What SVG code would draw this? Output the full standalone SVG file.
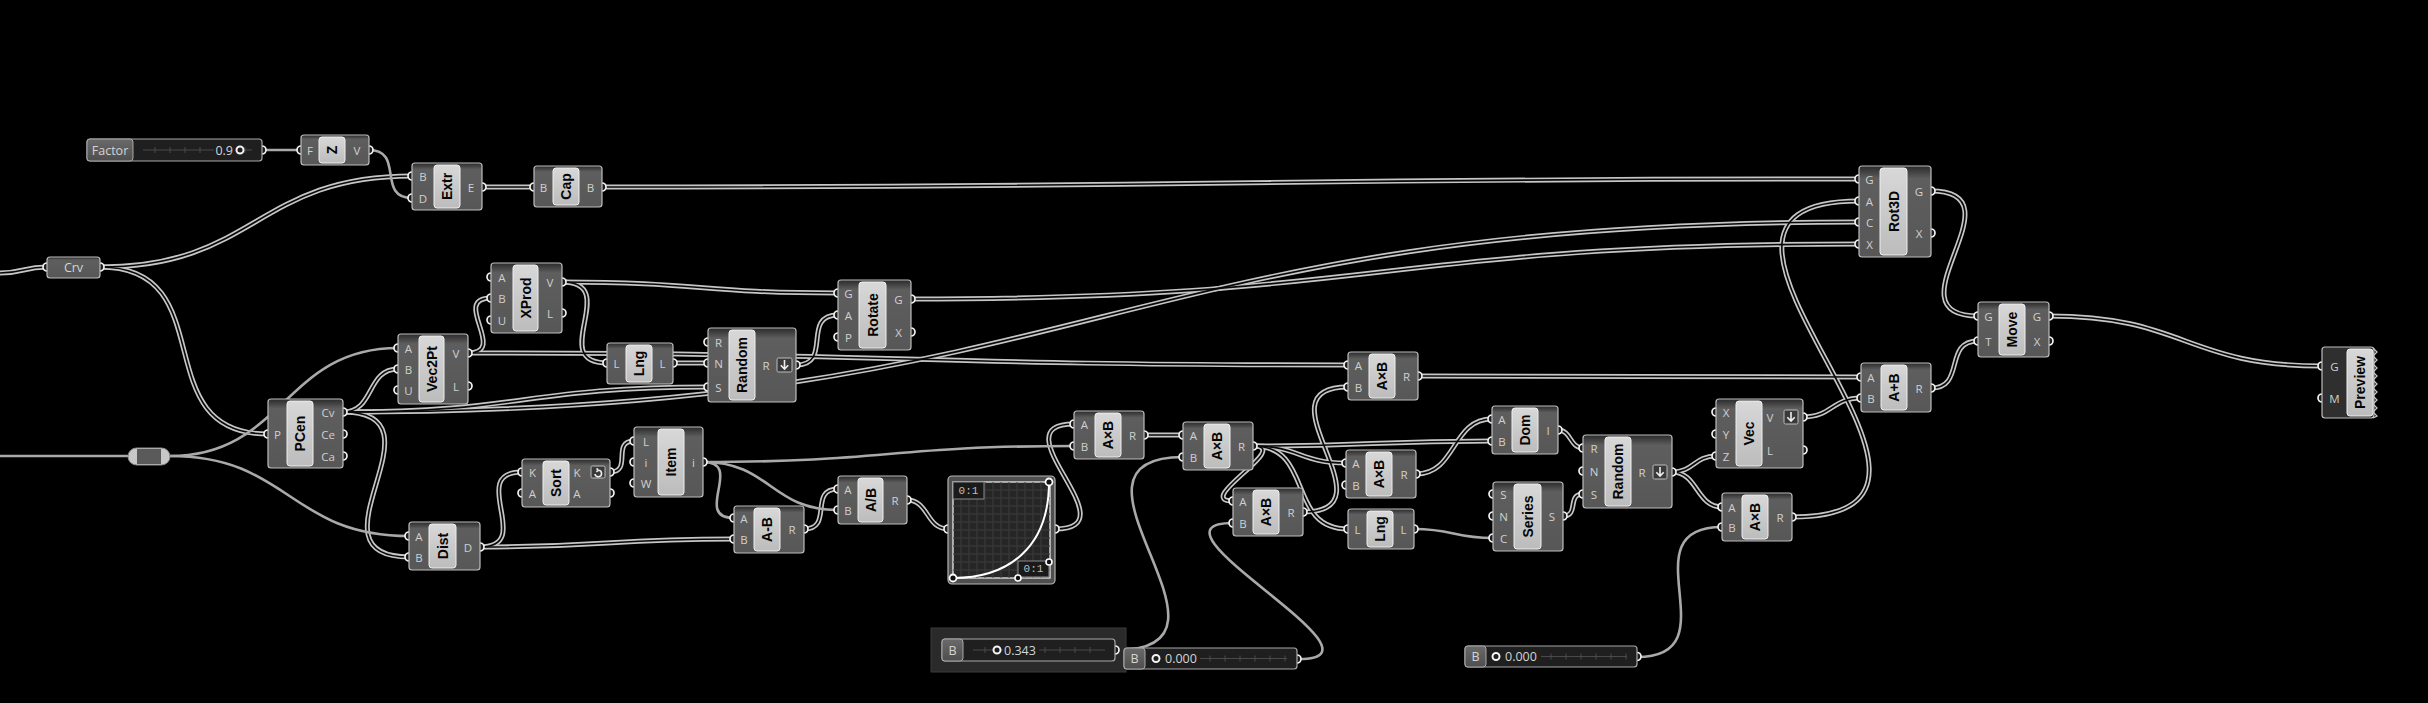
<svg xmlns="http://www.w3.org/2000/svg" width="2428" height="703" viewBox="0 0 2428 703">
<defs>
<linearGradient id="gBody" x1="0" y1="0" x2="0" y2="1"><stop offset="0" stop-color="#2a2a2a"/><stop offset="0.14" stop-color="#5e5e5e"/><stop offset="1" stop-color="#575757"/></linearGradient>
<linearGradient id="gIn" x1="0" y1="0" x2="0" y2="1"><stop offset="0" stop-color="#d8d8d8"/><stop offset="1" stop-color="#bcbcbc"/></linearGradient>
<linearGradient id="gLab" x1="0" y1="0" x2="0" y2="1"><stop offset="0" stop-color="#6a6a6a"/><stop offset="1" stop-color="#4e4e4e"/></linearGradient>
</defs>
<style>
.bd{fill:url(#gBody);stroke:#bdbdbd;stroke-width:1.2}
.ib{fill:url(#gIn);stroke:#efefef;stroke-width:1}
.nl{font-family:"Liberation Sans","DejaVu Sans",sans-serif;font-weight:bold;font-size:14px;fill:#050505;text-anchor:middle;dominant-baseline:central}
.pl{font-family:"Open Sans","Liberation Sans",sans-serif;font-size:11.5px;fill:#d0d0d0;text-anchor:middle;dominant-baseline:central}
.pt{fill:#1c1c1c;stroke:#f2f2f2;stroke-width:1.7}
.w2o{fill:none;stroke:#c6c6c6;stroke-width:5}
.w2i{fill:none;stroke:#080808;stroke-width:1.6}
.w1{fill:none;stroke:#a9a9a9;stroke-width:2.6}
.sl{fill:#1f1f1f;stroke:#a8a8a8;stroke-width:1.2}
.slab{fill:url(#gLab);stroke:#a8a8a8;stroke-width:1}
.st{font-family:"Open Sans","Liberation Sans",sans-serif;font-size:12.5px;fill:#d4d4d4;dominant-baseline:central}
.trk{stroke:#4a4a4a;stroke-width:1;fill:none}
.grip{fill:#1f1f1f;stroke:#f4f4f4;stroke-width:2}
.ico{fill:#3a3a3a;stroke:#bdbdbd;stroke-width:1}
.icl{fill:none;stroke:#eeeeee;stroke-width:1.6}
.mono{font-family:"Liberation Mono","DejaVu Sans Mono",monospace;font-size:11px;fill:#bdbdbd;text-anchor:middle;dominant-baseline:central}
</style>
<rect width="2428" height="703" fill="#000"/>

<g id="connectors">
<g class="w2o"><g id="dw">
<path d="M0 273 C23.5 273 23.5 267 47 267"/>
<path d="M100 267 C256 267 256 176 412 176"/>
<path d="M100 267 C225 267 143 434 268 434"/>
<path d="M482 187 L534 187"/>
<path d="M602 187 C1230 187 1230 179 1859 179"/>
<path d="M343 412 C375 412 366 369 398 369"/>
<path d="M343 412 C452 412 300 557 409 557"/>
<path d="M343 412 C525.5 412 525.5 387 708 387"/>
<path d="M343 412 C1101 412 1101 222 1859 222"/>
<path d="M468 353 C509 353 450 298 491 298"/>
<path d="M468 353 C908 353 908 365 1348 365"/>
<path d="M562 282 C700 282 700 293 838 293"/>
<path d="M562 282 C623 282 546 363 607 363"/>
<path d="M673 363 L708 363"/>
<path d="M796 365 C833.5 365 800.5 315 838 315"/>
<path d="M911 299 C1385 299 1385 244 1859 244"/>
<path d="M480 547 C536 547 466 472 522 472"/>
<path d="M480 547 C607 547 607 539 734 539"/>
<path d="M610 472 C633 472 611 441 634 441"/>
<path d="M804 529 C834 529 808 489 838 489"/>
<path d="M907 500 C929 500 926 529 948 529"/>
<path d="M1055 529 C1134 529 995 424 1074 424"/>
<path d="M1144 435 L1183 435"/>
<path d="M1253 446 C1294 446 1192 501 1233 501"/>
<path d="M1253 446 C1299.5 446 1299.5 463 1346 463"/>
<path d="M1253 446 C1315 446 1286 529 1348 529"/>
<path d="M1253 446 C1372 446 1372 441 1492 441"/>
<path d="M1303 512 C1397 512 1254 387 1348 387"/>
<path d="M1418 376 C1639.5 376 1639.5 377 1861 377"/>
<path d="M1416 474 C1457 474 1451 419 1492 419"/>
<path d="M1558 430 C1571.5 430 1569.5 448 1583 448"/>
<path d="M1563 516 C1579.5 516 1566.5 494 1583 494"/>
<path d="M1672 472 C1694 472 1694 456 1716 456"/>
<path d="M1672 472 C1698 472 1696 507 1722 507"/>
<path d="M1803 417 C1832 417 1832 398 1861 398"/>
<path d="M1792 517 C2029 517 1622 201 1859 201"/>
<path d="M1931 388 C1966 388 1943 341 1978 341"/>
<path d="M1931 191 C2025 191 1884 316 1978 316"/>
<path d="M2049 316 C2185.5 316 2185.5 366 2322 366"/>
</g></g>
<use href="#dw" class="w2i"/>
<g class="w1">
<path d="M264 150 L301 150"/>
<path d="M369 150 C405 150 376 198 412 198"/>
<path d="M0 456 L128 456"/>
<path d="M170 456 C284 456 284 348 398 348"/>
<path d="M170 456 C289.5 456 289.5 536 409 536"/>
<path d="M703 462 C745 462 692 518 734 518"/>
<path d="M703 462 C770.5 462 770.5 510 838 510"/>
<path d="M703 462 C888.5 462 888.5 446 1074 446"/>
<path d="M1117 650 C1262 650 1038 457 1183 457"/>
<path d="M1299 659 C1401 659 1131 523 1233 523"/>
<path d="M1414 529 C1453.5 529 1453.5 538 1493 538"/>
<path d="M1637 657 C1734.5 657 1624.5 527 1722 527"/>
</g>
</g>

<g id="nodes">

<g id="factor">
<circle class="pt" cx="262" cy="150" r="4"/>
<rect class="sl" x="87" y="139" width="175" height="22" rx="3"/>
<rect class="slab" x="87" y="139" width="46" height="22" rx="3"/>
<text class="st" x="110" y="150" text-anchor="middle" font-size="13">Factor</text>
<path class="trk" d="M143 150 H252 M155 147 v6 M170 147 v6 M185 147 v6 M200 147 v6 M215 147 v6 M230 147 v6 M245 147 v6"/>
<rect x="214" y="143" width="22" height="14" fill="#1f1f1f"/>
<text class="st" x="233" y="150" text-anchor="end">0.9</text>
<circle class="grip" cx="240" cy="150" r="3.5"/>
</g>

<g id="unitz">
<circle class="pt" cx="301" cy="150" r="4"/><circle class="pt" cx="369" cy="150" r="4"/>
<rect class="bd" x="301" y="135" width="68" height="30" rx="3"/>
<rect class="ib" x="319" y="137" width="26" height="26" rx="3"/>
<text class="nl" transform="translate(332 150) rotate(-90)">Z</text>
<text class="pl" x="310" y="150">F</text><text class="pl" x="357" y="150">V</text>
</g>

<g id="crv">
<circle class="pt" cx="47" cy="267" r="4"/><circle class="pt" cx="100" cy="267" r="4"/>
<rect class="bd" x="47" y="257" width="53" height="21" rx="3"/>
<text class="st" x="73.5" y="267.5" text-anchor="middle">Crv</text>
</g>

<g id="relay">
<rect x="128" y="448" width="42" height="17" rx="8.5" fill="#c8c8c8" stroke="#8a8a8a" stroke-width="1"/>
<rect x="137" y="449" width="24" height="15" fill="#5a5a5a"/>
</g>

<g id="extr">
<circle class="pt" cx="412" cy="176" r="4"/><circle class="pt" cx="412" cy="198" r="4"/><circle class="pt" cx="482" cy="187" r="4"/>
<rect class="bd" x="412" y="163" width="70" height="47" rx="3"/>
<rect class="ib" x="434" y="165" width="26" height="43" rx="3"/>
<text class="nl" transform="translate(447 186.5) rotate(-90)">Extr</text>
<text class="pl" x="423" y="176">B</text><text class="pl" x="423" y="198">D</text><text class="pl" x="471" y="187">E</text>
</g>

<g id="cap">
<circle class="pt" cx="534" cy="187" r="4"/><circle class="pt" cx="602" cy="187" r="4"/>
<rect class="bd" x="534" y="166" width="68" height="41" rx="3"/>
<rect class="ib" x="553" y="168" width="26" height="37" rx="3"/>
<text class="nl" transform="translate(566 186.5) rotate(-90)">Cap</text>
<text class="pl" x="543.5" y="187">B</text><text class="pl" x="590.5" y="187">B</text>
</g>

<g id="xprod">
<circle class="pt" cx="491" cy="277" r="4"/><circle class="pt" cx="491" cy="298" r="4"/><circle class="pt" cx="491" cy="320" r="4"/>
<circle class="pt" cx="562" cy="282" r="4"/><circle class="pt" cx="562" cy="313" r="4"/>
<rect class="bd" x="491" y="263" width="71" height="70" rx="3"/>
<rect class="ib" x="513" y="265" width="25" height="66" rx="3"/>
<text class="nl" transform="translate(525.5 298) rotate(-90)">XProd</text>
<text class="pl" x="502" y="277">A</text><text class="pl" x="502" y="298">B</text><text class="pl" x="502" y="320">U</text>
<text class="pl" x="550" y="282">V</text><text class="pl" x="550" y="313">L</text>
</g>

<g id="vec2pt">
<circle class="pt" cx="398" cy="348" r="4"/><circle class="pt" cx="398" cy="369" r="4"/><circle class="pt" cx="398" cy="390" r="4"/>
<circle class="pt" cx="468" cy="353" r="4"/><circle class="pt" cx="468" cy="386" r="4"/>
<rect class="bd" x="398" y="334" width="70" height="70" rx="3"/>
<rect class="ib" x="419" y="336" width="25" height="66" rx="3"/>
<text class="nl" transform="translate(431.5 369) rotate(-90)">Vec2Pt</text>
<text class="pl" x="408.5" y="348">A</text><text class="pl" x="408.5" y="369">B</text><text class="pl" x="408.5" y="390">U</text>
<text class="pl" x="456" y="353">V</text><text class="pl" x="456" y="386">L</text>
</g>

<g id="pcen">
<circle class="pt" cx="268" cy="434" r="4"/>
<circle class="pt" cx="343" cy="412" r="4"/><circle class="pt" cx="343" cy="434" r="4"/><circle class="pt" cx="343" cy="456" r="4"/>
<rect class="bd" x="268" y="399" width="75" height="69" rx="3"/>
<rect class="ib" x="287" y="401" width="26" height="65" rx="3"/>
<text class="nl" transform="translate(300 433.5) rotate(-90)">PCen</text>
<text class="pl" x="277.5" y="434">P</text>
<text class="pl" x="328" y="412">Cv</text><text class="pl" x="328" y="434">Ce</text><text class="pl" x="328" y="456">Ca</text>
</g>

<g id="lng1">
<circle class="pt" cx="607" cy="363" r="4"/><circle class="pt" cx="673" cy="363" r="4"/>
<rect class="bd" x="607" y="343" width="66" height="41" rx="3"/>
<rect class="ib" x="626" y="345" width="26" height="37" rx="3"/>
<text class="nl" transform="translate(639 363.5) rotate(-90)">Lng</text>
<text class="pl" x="616.5" y="363">L</text><text class="pl" x="662.5" y="363">L</text>
</g>

<g id="random1">
<circle class="pt" cx="708" cy="342" r="4"/><circle class="pt" cx="708" cy="363" r="4"/><circle class="pt" cx="708" cy="387" r="4"/>
<circle class="pt" cx="796" cy="365" r="4"/>
<rect class="bd" x="708" y="328" width="88" height="74" rx="3"/>
<rect class="ib" x="729" y="330" width="26" height="70" rx="3"/>
<text class="nl" transform="translate(742 365) rotate(-90)">Random</text>
<text class="pl" x="718.5" y="342">R</text><text class="pl" x="718.5" y="363">N</text><text class="pl" x="718.5" y="387">S</text>
<text class="pl" x="766" y="365">R</text>
<rect class="ico" x="777" y="358" width="15" height="14" rx="1.5"/>
<path class="icl" d="M784.5 360 V369 M780.8 365.3 L784.5 369 L788.2 365.3"/>
</g>

<g id="rotate">
<circle class="pt" cx="838" cy="293" r="4"/><circle class="pt" cx="838" cy="315" r="4"/><circle class="pt" cx="838" cy="337" r="4"/>
<circle class="pt" cx="911" cy="299" r="4"/><circle class="pt" cx="911" cy="332" r="4"/>
<rect class="bd" x="838" y="280" width="73" height="70" rx="3"/>
<rect class="ib" x="859" y="282" width="27" height="66" rx="3"/>
<text class="nl" transform="translate(872.5 315) rotate(-90)">Rotate</text>
<text class="pl" x="848.5" y="293">G</text><text class="pl" x="848.5" y="315">A</text><text class="pl" x="848.5" y="337">P</text>
<text class="pl" x="898.5" y="299">G</text><text class="pl" x="898.5" y="332">X</text>
</g>

<g id="dist">
<circle class="pt" cx="409" cy="536" r="4"/><circle class="pt" cx="409" cy="557" r="4"/><circle class="pt" cx="480" cy="547" r="4"/>
<rect class="bd" x="409" y="522" width="71" height="48" rx="3"/>
<rect class="ib" x="429" y="524" width="27" height="44" rx="3"/>
<text class="nl" transform="translate(442.5 546) rotate(-90)">Dist</text>
<text class="pl" x="419" y="536">A</text><text class="pl" x="419" y="557">B</text><text class="pl" x="468" y="547">D</text>
</g>

<g id="sort">
<circle class="pt" cx="522" cy="472" r="4"/><circle class="pt" cx="522" cy="493" r="4"/>
<circle class="pt" cx="610" cy="472" r="4"/><circle class="pt" cx="610" cy="493" r="4"/>
<rect class="bd" x="522" y="459" width="88" height="48" rx="3"/>
<rect class="ib" x="543" y="461" width="26" height="44" rx="3"/>
<text class="nl" transform="translate(556 483) rotate(-90)">Sort</text>
<text class="pl" x="532.5" y="472">K</text><text class="pl" x="532.5" y="493">A</text>
<text class="pl" x="577" y="472">K</text><text class="pl" x="577" y="493">A</text>
<rect class="ico" x="591" y="466" width="14" height="12" rx="1.5"/>
<path class="icl" d="M595 474 A3.3 3.3 0 1 0 598.3 470.2 M598.3 470.2 L596.6 468.4 M598.3 470.2 L596.4 471.8" stroke-width="1.3"/>
</g>

<g id="item">
<circle class="pt" cx="634" cy="441" r="4"/><circle class="pt" cx="634" cy="462" r="4"/><circle class="pt" cx="634" cy="483" r="4"/>
<circle class="pt" cx="703" cy="462" r="4"/>
<rect class="bd" x="634" y="427" width="69" height="70" rx="3"/>
<rect class="ib" x="658" y="429" width="26" height="66" rx="3"/>
<text class="nl" transform="translate(671 462) rotate(-90)">Item</text>
<text class="pl" x="646" y="441">L</text><text class="pl" x="646" y="462">i</text><text class="pl" x="646" y="483">W</text>
<text class="pl" x="693.5" y="462">i</text>
</g>

<g id="aminusb">
<circle class="pt" cx="734" cy="518" r="4"/><circle class="pt" cx="734" cy="539" r="4"/><circle class="pt" cx="804" cy="529" r="4"/>
<rect class="bd" x="734" y="506" width="70" height="47" rx="3"/>
<rect class="ib" x="754" y="508" width="26" height="43" rx="3"/>
<text class="nl" transform="translate(767 529.5) rotate(-90)">A-B</text>
<text class="pl" x="744" y="518">A</text><text class="pl" x="744" y="539">B</text><text class="pl" x="792" y="529">R</text>
</g>

<g id="adivb">
<circle class="pt" cx="838" cy="489" r="4"/><circle class="pt" cx="838" cy="510" r="4"/><circle class="pt" cx="907" cy="500" r="4"/>
<rect class="bd" x="838" y="476" width="69" height="48" rx="3"/>
<rect class="ib" x="858" y="478" width="25" height="44" rx="3"/>
<text class="nl" transform="translate(870.5 500) rotate(-90)">A/B</text>
<text class="pl" x="848" y="489">A</text><text class="pl" x="848" y="510">B</text><text class="pl" x="895" y="500">R</text>
</g>

<g id="graph">
<circle class="pt" cx="948" cy="529" r="4"/><circle class="pt" cx="1055" cy="529" r="4"/>
<rect x="948" y="476" width="107" height="108" rx="4" fill="#4f4f4f" stroke="#b5b5b5" stroke-width="1.2"/>
<rect x="953" y="482" width="97" height="96" fill="#262626" stroke="#dcdcdc" stroke-width="1.4"/>
<path d="M961 482 V578 M969 482 V578 M977 482 V578 M985 482 V578 M993 482 V578 M1001 482 V578 M1009 482 V578 M1017 482 V578 M1025 482 V578 M1033 482 V578 M1041 482 V578 M953 490 H1050 M953 498 H1050 M953 506 H1050 M953 514 H1050 M953 522 H1050 M953 530 H1050 M953 538 H1050 M953 546 H1050 M953 554 H1050 M953 562 H1050 M953 570 H1050" stroke="#3d3d3d" stroke-width="1" fill="none"/>
<rect x="953" y="482" width="31" height="17" fill="#1a1a1a" stroke="#8a8a8a" stroke-width="1"/>
<text class="mono" x="968.5" y="490.5">0:1</text>
<rect x="1018" y="561" width="31" height="16" fill="#1a1a1a" stroke="#8a8a8a" stroke-width="1"/>
<text class="mono" x="1033.5" y="569">0:1</text>
<path d="M953 578 C1008 578 1049 548 1049 482" fill="none" stroke="#ffffff" stroke-width="2"/>
<circle cx="953" cy="578" r="3.5" fill="#111" stroke="#fff" stroke-width="1.8"/>
<circle cx="1049" cy="482" r="3.5" fill="#111" stroke="#fff" stroke-width="1.8"/>
<circle cx="1018" cy="578" r="3" fill="#111" stroke="#fff" stroke-width="1.6"/>
<circle cx="1049" cy="562" r="3" fill="#111" stroke="#fff" stroke-width="1.6"/>
</g>

<g id="axb1">
<circle class="pt" cx="1074" cy="424" r="4"/><circle class="pt" cx="1074" cy="446" r="4"/><circle class="pt" cx="1144" cy="435" r="4"/>
<rect class="bd" x="1074" y="411" width="70" height="48" rx="3"/>
<rect class="ib" x="1095" y="413" width="26" height="44" rx="3"/>
<text class="nl" transform="translate(1108 435) rotate(-90)">A×B</text>
<text class="pl" x="1084.5" y="424">A</text><text class="pl" x="1084.5" y="446">B</text><text class="pl" x="1132.5" y="435">R</text>
</g>

<g id="axb2">
<circle class="pt" cx="1183" cy="435" r="4"/><circle class="pt" cx="1183" cy="457" r="4"/><circle class="pt" cx="1253" cy="446" r="4"/>
<rect class="bd" x="1183" y="422" width="70" height="48" rx="3"/>
<rect class="ib" x="1204" y="424" width="26" height="44" rx="3"/>
<text class="nl" transform="translate(1217 446) rotate(-90)">A×B</text>
<text class="pl" x="1193.5" y="435">A</text><text class="pl" x="1193.5" y="457">B</text><text class="pl" x="1241.5" y="446">R</text>
</g>

<g id="axb3">
<circle class="pt" cx="1233" cy="501" r="4"/><circle class="pt" cx="1233" cy="523" r="4"/><circle class="pt" cx="1303" cy="512" r="4"/>
<rect class="bd" x="1233" y="488" width="70" height="48" rx="3"/>
<rect class="ib" x="1253" y="490" width="26" height="44" rx="3"/>
<text class="nl" transform="translate(1266 512) rotate(-90)">A×B</text>
<text class="pl" x="1243" y="501">A</text><text class="pl" x="1243" y="523">B</text><text class="pl" x="1291" y="512">R</text>
</g>

<g id="axb5">
<circle class="pt" cx="1348" cy="365" r="4"/><circle class="pt" cx="1348" cy="387" r="4"/><circle class="pt" cx="1418" cy="376" r="4"/>
<rect class="bd" x="1348" y="352" width="70" height="48" rx="3"/>
<rect class="ib" x="1369" y="354" width="26" height="44" rx="3"/>
<text class="nl" transform="translate(1382 376) rotate(-90)">A×B</text>
<text class="pl" x="1358.5" y="365">A</text><text class="pl" x="1358.5" y="387">B</text><text class="pl" x="1406.5" y="376">R</text>
</g>

<g id="axb4">
<circle class="pt" cx="1346" cy="463" r="4"/><circle class="pt" cx="1346" cy="485" r="4"/><circle class="pt" cx="1416" cy="474" r="4"/>
<rect class="bd" x="1346" y="450" width="70" height="48" rx="3"/>
<rect class="ib" x="1366" y="452" width="26" height="44" rx="3"/>
<text class="nl" transform="translate(1379 474) rotate(-90)">A×B</text>
<text class="pl" x="1356" y="463">A</text><text class="pl" x="1356" y="485">B</text><text class="pl" x="1404" y="474">R</text>
</g>

<g id="lng2">
<circle class="pt" cx="1348" cy="529" r="4"/><circle class="pt" cx="1414" cy="529" r="4"/>
<rect class="bd" x="1348" y="509" width="66" height="40" rx="3"/>
<rect class="ib" x="1367" y="511" width="26" height="36" rx="3"/>
<text class="nl" transform="translate(1380 529) rotate(-90)">Lng</text>
<text class="pl" x="1357.5" y="529">L</text><text class="pl" x="1403.5" y="529">L</text>
</g>

<g id="dom">
<circle class="pt" cx="1492" cy="419" r="4"/><circle class="pt" cx="1492" cy="441" r="4"/><circle class="pt" cx="1558" cy="430" r="4"/>
<rect class="bd" x="1492" y="406" width="66" height="48" rx="3"/>
<rect class="ib" x="1512" y="408" width="26" height="44" rx="3"/>
<text class="nl" transform="translate(1525 430) rotate(-90)">Dom</text>
<text class="pl" x="1502" y="419">A</text><text class="pl" x="1502" y="441">B</text><text class="pl" x="1548" y="430">I</text>
</g>

<g id="series">
<circle class="pt" cx="1493" cy="494" r="4"/><circle class="pt" cx="1493" cy="516" r="4"/><circle class="pt" cx="1493" cy="538" r="4"/>
<circle class="pt" cx="1563" cy="516" r="4"/>
<rect class="bd" x="1493" y="482" width="70" height="69" rx="3"/>
<rect class="ib" x="1514" y="484" width="27" height="65" rx="3"/>
<text class="nl" transform="translate(1527.5 516.5) rotate(-90)">Series</text>
<text class="pl" x="1503.5" y="494">S</text><text class="pl" x="1503.5" y="516">N</text><text class="pl" x="1503.5" y="538">C</text>
<text class="pl" x="1552" y="516">S</text>
</g>

<g id="random2">
<circle class="pt" cx="1583" cy="448" r="4"/><circle class="pt" cx="1583" cy="471" r="4"/><circle class="pt" cx="1583" cy="494" r="4"/>
<circle class="pt" cx="1672" cy="472" r="4"/>
<rect class="bd" x="1583" y="435" width="89" height="73" rx="3"/>
<rect class="ib" x="1605" y="437" width="26" height="69" rx="3"/>
<text class="nl" transform="translate(1618 471.5) rotate(-90)">Random</text>
<text class="pl" x="1594" y="448">R</text><text class="pl" x="1594" y="471">N</text><text class="pl" x="1594" y="494">S</text>
<text class="pl" x="1642" y="472">R</text>
<rect class="ico" x="1653" y="465" width="14" height="14" rx="1.5"/>
<path class="icl" d="M1660 467 V476 M1656.3 472.3 L1660 476 L1663.7 472.3"/>
</g>

<g id="vec">
<circle class="pt" cx="1716" cy="412" r="4"/><circle class="pt" cx="1716" cy="434" r="4"/><circle class="pt" cx="1716" cy="456" r="4"/>
<circle class="pt" cx="1803" cy="417" r="4"/><circle class="pt" cx="1803" cy="450" r="4"/>
<rect class="bd" x="1716" y="399" width="87" height="69" rx="3"/>
<rect class="ib" x="1736" y="401" width="26" height="65" rx="3"/>
<text class="nl" transform="translate(1749 433.5) rotate(-90)">Vec</text>
<text class="pl" x="1726" y="412">X</text><text class="pl" x="1726" y="434">Y</text><text class="pl" x="1726" y="456">Z</text>
<text class="pl" x="1770" y="417">V</text><text class="pl" x="1770" y="450">L</text>
<rect class="ico" x="1784" y="410" width="14" height="14" rx="1.5"/>
<path class="icl" d="M1791 412 V421 M1787.3 417.3 L1791 421 L1794.7 417.3"/>
</g>

<g id="axb6">
<circle class="pt" cx="1722" cy="507" r="4"/><circle class="pt" cx="1722" cy="527" r="4"/><circle class="pt" cx="1792" cy="517" r="4"/>
<rect class="bd" x="1722" y="493" width="70" height="48" rx="3"/>
<rect class="ib" x="1742" y="495" width="26" height="44" rx="3"/>
<text class="nl" transform="translate(1755 517) rotate(-90)">A×B</text>
<text class="pl" x="1732" y="507">A</text><text class="pl" x="1732" y="527">B</text><text class="pl" x="1780" y="517">R</text>
</g>

<g id="aplusb">
<circle class="pt" cx="1861" cy="377" r="4"/><circle class="pt" cx="1861" cy="398" r="4"/><circle class="pt" cx="1931" cy="388" r="4"/>
<rect class="bd" x="1861" y="363" width="70" height="49" rx="3"/>
<rect class="ib" x="1881" y="365" width="26" height="45" rx="3"/>
<text class="nl" transform="translate(1894 387.5) rotate(-90)">A+B</text>
<text class="pl" x="1871" y="377">A</text><text class="pl" x="1871" y="398">B</text><text class="pl" x="1919" y="388">R</text>
</g>

<g id="rot3d">
<circle class="pt" cx="1859" cy="179" r="4"/><circle class="pt" cx="1859" cy="201" r="4"/><circle class="pt" cx="1859" cy="222" r="4"/><circle class="pt" cx="1859" cy="244" r="4"/>
<circle class="pt" cx="1931" cy="191" r="4"/><circle class="pt" cx="1931" cy="233" r="4"/>
<rect class="bd" x="1859" y="166" width="72" height="91" rx="3"/>
<rect class="ib" x="1880" y="168" width="27" height="87" rx="3"/>
<text class="nl" transform="translate(1893.5 211.5) rotate(-90)">Rot3D</text>
<text class="pl" x="1869.5" y="179">G</text><text class="pl" x="1869.5" y="201">A</text><text class="pl" x="1869.5" y="222">C</text><text class="pl" x="1869.5" y="244">X</text>
<text class="pl" x="1919" y="191">G</text><text class="pl" x="1919" y="233">X</text>
</g>

<g id="move">
<circle class="pt" cx="1978" cy="316" r="4"/><circle class="pt" cx="1978" cy="341" r="4"/>
<circle class="pt" cx="2049" cy="316" r="4"/><circle class="pt" cx="2049" cy="341" r="4"/>
<rect class="bd" x="1978" y="302" width="71" height="55" rx="3"/>
<rect class="ib" x="1999" y="304" width="26" height="51" rx="3"/>
<text class="nl" transform="translate(2012 329.5) rotate(-90)">Move</text>
<text class="pl" x="1988.5" y="316">G</text><text class="pl" x="1988.5" y="341">T</text>
<text class="pl" x="2037" y="316">G</text><text class="pl" x="2037" y="341">X</text>
</g>

<g id="preview">
<circle class="pt" cx="2322" cy="366" r="4"/><circle class="pt" cx="2322" cy="398" r="4"/>
<rect x="2322" y="347" width="52" height="71" rx="3" fill="#2f2f2f" stroke="#bdbdbd" stroke-width="1.2"/>
<rect class="ib" x="2347" y="349" width="26" height="67" rx="3"/>
<polyline points="2373,348 2377,352 2373,356 2377,360 2373,364 2377,368 2373,372 2377,376 2373,380 2377,384 2373,388 2377,392 2373,396 2377,400 2373,404 2377,408 2373,412 2377,416 2373,418" fill="none" stroke="#c8c8c8" stroke-width="1.3"/>
<text class="nl" transform="translate(2360 382.5) rotate(-90)">Preview</text>
<text class="pl" x="2334.5" y="366">G</text><text class="pl" x="2334.5" y="398">M</text>
</g>

<g id="slider343">
<rect x="931" y="628" width="195" height="44" fill="#2a2a2a" stroke="#3a3a3a" stroke-width="1"/>
<circle class="pt" cx="1115" cy="650" r="4"/>
<rect class="sl" x="942" y="639" width="173" height="22" rx="3"/>
<rect class="slab" x="942" y="639" width="21" height="22" rx="3"/>
<text class="st" x="952.5" y="650" text-anchor="middle">B</text>
<path class="trk" d="M973 650 H1105 M985 647 v6 M1000 647 v6 M1015 647 v6 M1030 647 v6 M1045 647 v6 M1060 647 v6 M1075 647 v6 M1090 647 v6"/>
<rect x="1003" y="642" width="36" height="16" fill="#1f1f1f"/>
<circle class="grip" cx="997" cy="650" r="3.5"/>
<text class="st" x="1004" y="650">0.343</text>
</g>

<g id="slider000a">
<circle class="pt" cx="1297" cy="659" r="4"/>
<rect class="sl" x="1124" y="648" width="173" height="21" rx="3"/>
<rect class="slab" x="1124" y="648" width="21" height="21" rx="3"/>
<text class="st" x="1134.5" y="658.5" text-anchor="middle">B</text>
<path class="trk" d="M1200 658.5 H1287 M1210 655.5 v6 M1225 655.5 v6 M1240 655.5 v6 M1255 655.5 v6 M1270 655.5 v6 M1285 655.5 v6"/>
<circle class="grip" cx="1156" cy="658.5" r="3.5"/>
<text class="st" x="1165" y="658.5">0.000</text>
</g>

<g id="slider000b">
<circle class="pt" cx="1637" cy="656.5" r="4"/>
<rect class="sl" x="1465" y="646" width="172" height="21" rx="3"/>
<rect class="slab" x="1465" y="646" width="21" height="21" rx="3"/>
<text class="st" x="1475.5" y="656.5" text-anchor="middle">B</text>
<path class="trk" d="M1541 656.5 H1627 M1551 653.5 v6 M1566 653.5 v6 M1581 653.5 v6 M1596 653.5 v6 M1611 653.5 v6 M1626 653.5 v6"/>
<circle class="grip" cx="1496" cy="656.5" r="3.5"/>
<text class="st" x="1505" y="656.5">0.000</text>
</g>

</g>
</svg>
